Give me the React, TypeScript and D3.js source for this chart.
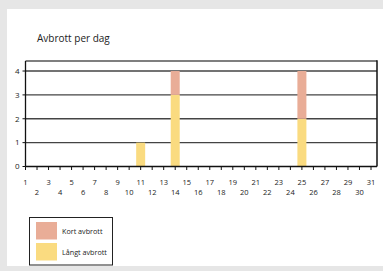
import React from "react";
import * as d3 from "d3";

const days = d3.range(1, 32);
const seriesNames = ["Kort avbrott", "Långt avbrott"];
const seriesColors = ["#e9ad97", "#fadb80"];
const langtValues: Record<number, number> = { 11: 1, 14: 3, 25: 2 };
const kortValues: Record<number, number> = { 14: 1, 25: 2 };
const yTicks = [0, 1, 2, 3, 4];
const title = "Avbrott per dag";

const W = 383;
const H = 271;
const plotLeft = 25.5;
const plotRight = 377;
const plotTop = 61;
const plotBottom = 166.5;

export default function App() {
  const x = d3.scaleLinear().domain([1, 31]).range([plotLeft, 371]);
  const y = d3.scaleLinear().domain([0, 4.42]).range([plotBottom, plotTop]);
  const barW = 9;
  const font = "'Open Sans', 'Liberation Sans', sans-serif";

  const stacked = days.map((d) => {
    const l = langtValues[d] || 0;
    const k = kortValues[d] || 0;
    return { d, l, k };
  });

  return (
    <svg
      width={W}
      height={H}
      style={{ position: "absolute", left: 0, top: 0 }}
      fontFamily={font}
    >
      <rect x={0} y={0} width={W} height={H} fill="#e6e6e6" />
      <rect x={7} y={9} width={W - 7} height={257} fill="#ffffff" />
      <text x={37} y={42} fontSize={10} fill="#222">
        {title}
      </text>

      {/* top border */}
      <line x1={plotLeft} x2={plotRight} y1={plotTop} y2={plotTop} stroke="#555" strokeWidth={1.5} />
      {/* gridlines */}
      {yTicks.slice(1).map((t) => (
        <line
          key={t}
          x1={plotLeft}
          x2={plotRight}
          y1={y(t)}
          y2={y(t)}
          stroke="#444"
          strokeWidth={1.3}
        />
      ))}

      {/* bars */}
      {stacked.map(({ d, l, k }) => (
        <g key={d}>
          {l > 0 && (
            <rect x={x(d) - barW / 2} y={y(l)} width={barW} height={y(0) - y(l)} fill={seriesColors[1]} />
          )}
          {k > 0 && (
            <rect x={x(d) - barW / 2} y={y(l + k)} width={barW} height={y(l) - y(l + k)} fill={seriesColors[0]} />
          )}
        </g>
      ))}

      {/* left axis */}
      <line x1={plotLeft} x2={plotLeft} y1={plotTop} y2={plotBottom} stroke="#111" strokeWidth={1.3} />
      {yTicks.map((t) => (
        <g key={t}>
          <line x1={plotLeft - 3} x2={plotLeft} y1={y(t)} y2={y(t)} stroke="#111" strokeWidth={1} />
          <text x={plotLeft - 6} y={y(t)} dy="0.35em" textAnchor="end" fontSize={8} fill="#222">
            {t}
          </text>
        </g>
      ))}
      {/* right border */}
      <line x1={plotRight} x2={plotRight} y1={plotTop - 0.7} y2={plotBottom} stroke="#111" strokeWidth={1.5} />
      {/* bottom axis */}
      <line x1={plotLeft} x2={plotRight} y1={plotBottom} y2={plotBottom} stroke="#111" strokeWidth={1.5} />
      {days.map((d) => (
        <g key={d}>
          <line x1={x(d)} x2={x(d)} y1={plotBottom} y2={plotBottom + 3.5} stroke="#111" strokeWidth={1} />
          <text
            x={x(d)}
            y={d % 2 === 1 ? 184.5 : 195}
            textAnchor="middle"
            fontSize={7.5}
            fill="#222"
          >
            {d}
          </text>
        </g>
      ))}

      {/* legend */}
      <rect x={29.5} y={217.5} width={83} height={47.5} fill="#fff" stroke="#222" strokeWidth={1} />
      {seriesNames.map((n, i) => (
        <g key={n}>
          <rect x={36} y={222 + i * 21} width={21} height={17.5} fill={seriesColors[i]} />
          <text x={62} y={233.5 + i * 21} fontSize={7.2} fill="#222">
            {n}
          </text>
        </g>
      ))}
    </svg>
  );
}
